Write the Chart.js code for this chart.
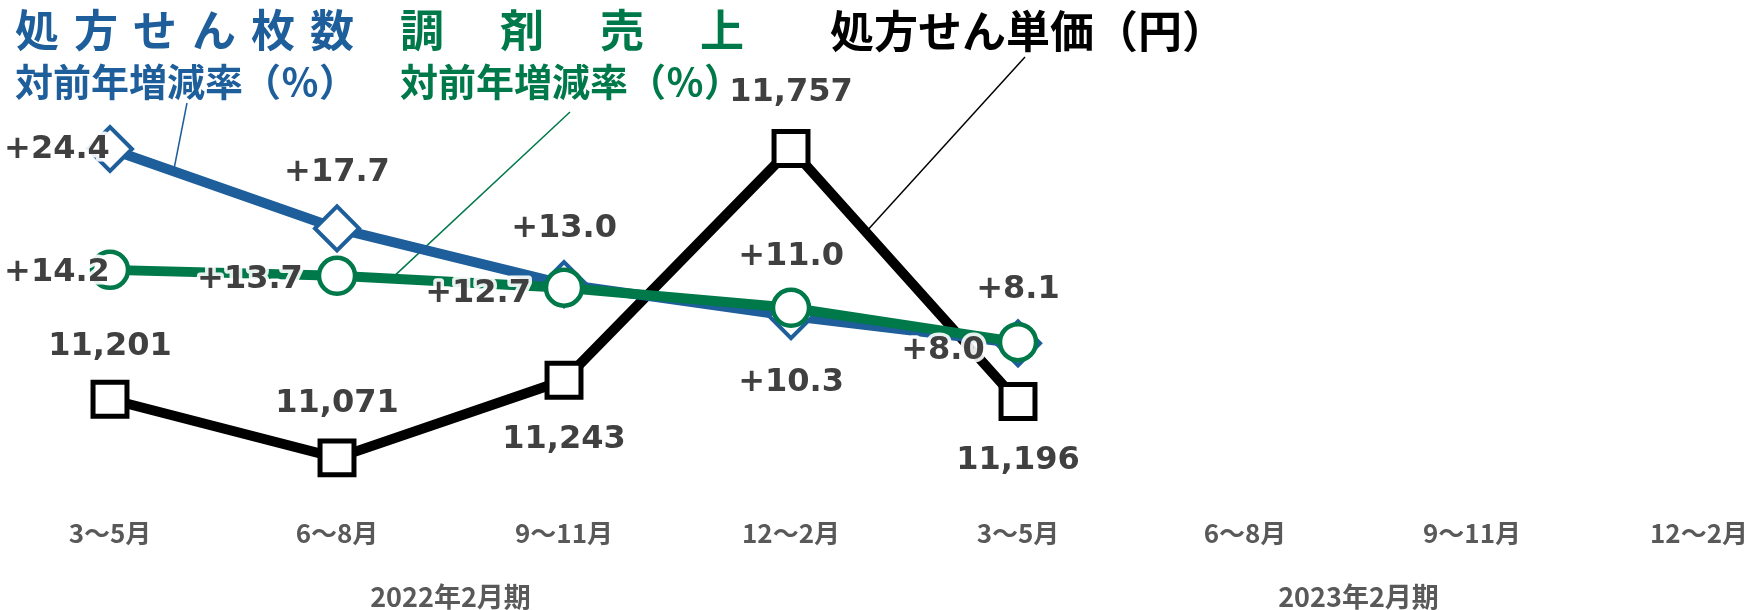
<!DOCTYPE html>
<html lang="ja">
<head>
<meta charset="utf-8">
<title>処方せん枚数・調剤売上・処方せん単価</title>
<script src="https://cdn.jsdelivr.net/npm/chart.js@4.4.1/dist/chart.umd.min.js"></script>
<style>
  html, body { margin: 0; padding: 0; background: #fff; overflow: hidden; }
  canvas { display: block; }
</style>
</head>
<body>
<canvas id="quarterChart" width="1751" height="610"></canvas>
<script>
// 四半期
const periods = ['3～5月', '6～8月', '9～11月', '12～2月', '3～5月', '6～8月', '9～11月', '12～2月'];
const fiscalYears = ['2022年2月期', '2023年2月期'];

// 処方せん枚数 対前年増減率（％）
const rxCountYoY = [24.4, 17.7, 13.0, 10.3, 8.0];
// 調剤売上 対前年増減率（％）
const salesYoY = [14.2, 13.7, 12.7, 11.0, 8.1];
// 処方せん単価（円）
const unitPrice = [11201, 11071, 11243, 11757, 11196];

const BLUE = '#1d5e9b';
const GREEN = '#00794a';
const BLACK = '#000000';

// ラベル位置（点からのずれ）
const labelOffsets = [
  [[-53, 1], [0, -56], [0, -55], [0, 67], [-75, 7]],
  [[-53, 3], [-87, 4], [-86, 6], [0, -51], [0, -52]],
  [[0, -53], [0, -54], [0, 59], [0, -56], [0, 59]]
];
const pct = v => '+' + v.toFixed(1);
const yen = v => v.toLocaleString('en-US');
const labelFormats = [pct, pct, yen];

const toPoints = arr => arr.map((v, i) => ({ x: i, y: v }));

// 軸の余白を付けない
const noPadding = (s, h) => {
  if (h !== undefined) s.height = h;
  s.paddingLeft = s.paddingRight = s.paddingTop = s.paddingBottom = 0;
};

const valueLabels = {
  id: 'valueLabels',
  afterDatasetsDraw(chart) {
    const ctx = chart.ctx;
    ctx.save();
    ctx.font = 'bold 32px "DejaVu Sans", Verdana, sans-serif';
    ctx.textAlign = 'center';
    ctx.textBaseline = 'middle';
    ctx.lineJoin = 'round';
    chart.data.datasets.forEach((ds, di) => {
      chart.getDatasetMeta(di).data.forEach((pt, i) => {
        const [dx, dy] = labelOffsets[di][i];
        const text = labelFormats[di](ds.data[i].y);
        ctx.strokeStyle = 'rgba(255,255,255,0.9)';
        ctx.lineWidth = 7;
        ctx.strokeText(text, pt.x + dx, pt.y + dy);
        ctx.fillStyle = '#404040';
        ctx.fillText(text, pt.x + dx, pt.y + dy);
      });
    });
    ctx.restore();
  }
};

// 見出しと引き出し線
const headings = {
  id: 'headings',
  beforeDatasetsDraw(chart) {
    const ctx = chart.ctx;
    const along = (di, a, b, t) => {
      const p = chart.getDatasetMeta(di).data;
      return [p[a].x + (p[b].x - p[a].x) * t, p[a].y + (p[b].y - p[a].y) * t];
    };
    const leaders = [
      [BLUE, [187, 103], along(0, 0, 1, 0.28)],
      [GREEN, [570, 112], along(1, 1, 2, 0.24)],
      [BLACK, [1025, 57], along(2, 3, 4, 0.33)]
    ];
    ctx.save();
    ctx.lineWidth = 1.5;
    leaders.forEach(([c, from, to]) => {
      ctx.strokeStyle = c;
      ctx.beginPath();
      ctx.moveTo(from[0], from[1]);
      ctx.lineTo(to[0], to[1]);
      ctx.stroke();
    });
    ctx.restore();
  },
  afterDraw(chart) {
    const ctx = chart.ctx;
    const spaced = (text, x, y, pitch) => {
      [...text].forEach((ch, i) => ctx.fillText(ch, x + i * pitch, y));
    };
    ctx.save();
    ctx.textAlign = 'left';
    ctx.textBaseline = 'middle';
    ctx.font = 'bold 44px "Noto Sans CJK JP", sans-serif';
    ctx.fillStyle = BLUE;
    spaced('処方せん枚数', 15, 30, 59);
    ctx.fillStyle = GREEN;
    spaced('調剤売上', 400, 30, 100);
    ctx.fillStyle = BLACK;
    ctx.fillText('処方せん単価（円）', 830, 31);
    ctx.font = 'bold 38px "Noto Sans CJK JP", sans-serif';
    ctx.fillStyle = BLUE;
    ctx.fillText('対前年増減率（％）', 15, 82);
    ctx.fillStyle = GREEN;
    ctx.fillText('対前年増減率（％）', 400, 82);
    ctx.restore();
  }
};

const tickFont = { family: '"Noto Sans CJK JP", sans-serif', size: 26, weight: 'bold' };
const yearFont = { family: '"Noto Sans CJK JP", sans-serif', size: 27, weight: 'bold' };

new Chart(document.getElementById('quarterChart'), {
  type: 'line',
  data: {
    datasets: [{
      label: '処方せん枚数 対前年増減率',
      data: toPoints(rxCountYoY),
      yAxisID: 'y',
      order: 1,
      borderColor: BLUE,
      borderWidth: 10,
      pointStyle: 'rectRot',
      pointRadius: 22,
      pointBorderWidth: 4,
      pointBorderColor: BLUE,
      pointBackgroundColor: '#fff'
    }, {
      label: '調剤売上 対前年増減率',
      data: toPoints(salesYoY),
      yAxisID: 'y',
      order: 0,
      borderColor: GREEN,
      borderWidth: 10,
      pointStyle: 'circle',
      pointRadius: 18,
      pointBorderWidth: 4.5,
      pointBorderColor: GREEN,
      pointBackgroundColor: '#fff'
    }, {
      label: '処方せん単価',
      data: toPoints(unitPrice),
      yAxisID: 'y2',
      order: 2,
      borderColor: BLACK,
      borderWidth: 10,
      pointStyle: 'rect',
      pointRadius: 24,
      pointBorderWidth: 5,
      pointBorderColor: BLACK,
      pointBackgroundColor: '#fff'
    }]
  },
  options: {
    responsive: false,
    animation: false,
    devicePixelRatio: 1,
    layout: { padding: 0, autoPadding: false },
    plugins: {
      legend: { display: false },
      tooltip: { enabled: false }
    },
    scales: {
      x: {
        type: 'linear',
        position: 'bottom',
        min: -0.4846,
        max: 7.229,
        weight: 0,
        grid: { display: false, drawTicks: false },
        border: { display: false },
        afterBuildTicks: s => { s.ticks = periods.map((_, i) => ({ value: i })); },
        afterFit: s => noPadding(s, 85),
        ticks: {
          autoSkip: false,
          maxRotation: 0,
          padding: 38,
          color: '#595959',
          font: tickFont,
          callback: v => periods[v]
        }
      },
      x2: {
        type: 'linear',
        position: 'bottom',
        min: -0.4846,
        max: 7.229,
        weight: 1,
        grid: { display: false, drawTicks: false },
        border: { display: false },
        afterBuildTicks: s => { s.ticks = fiscalYears.map((_, i) => ({ value: i * 4 + 1.5 })); },
        afterFit: s => noPadding(s, 45),
        ticks: {
          autoSkip: false,
          maxRotation: 0,
          padding: 16,
          color: '#595959',
          font: yearFont,
          callback: v => fiscalYears[(v - 1.5) / 4]
        }
      },
      y: {
        display: false,
        min: -3.532,
        max: 36.974,
        ticks: { display: false },
        afterFit: s => noPadding(s)
      },
      y2: {
        display: false,
        min: 11022,
        max: 12086.3,
        ticks: { display: false },
        afterFit: s => noPadding(s)
      }
    }
  },
  plugins: [headings, valueLabels]
});
</script>
</body>
</html>
